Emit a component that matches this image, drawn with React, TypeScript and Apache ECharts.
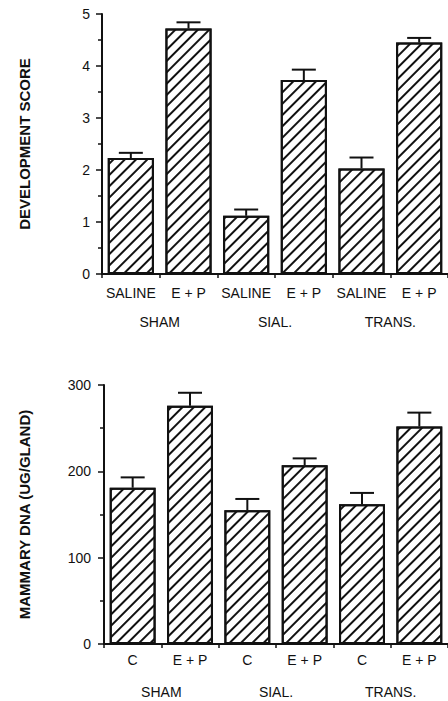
import React, { useEffect, useRef } from "react";
import * as echarts from "echarts";

const devCategories = ["SALINE", "E + P", "SALINE", "E + P", "SALINE", "E + P"];
const devGroups = ["SHAM", "SIAL.", "TRANS."];
const devMeans = [2.23, 4.72, 1.12, 3.73, 2.03, 4.45];
const devErr = [0.1, 0.12, 0.12, 0.2, 0.21, 0.09];

const dnaCategories = ["C", "E + P", "C", "E + P", "C", "E + P"];
const dnaGroups = ["SHAM", "SIAL.", "TRANS."];
const dnaMeans = [181, 276, 155, 207, 162, 252];
const dnaErr = [12, 15, 13, 8, 13, 16];

const FONT = "'Liberation Sans', Arial, Helvetica, sans-serif";
const INK = "#111";

export default function App() {
  const ref = useRef<HTMLDivElement>(null);

  useEffect(() => {
    if (!ref.current) return;
    const chart = echarts.init(ref.current, undefined, { renderer: "svg" });

    const decal = {
      symbol: "rect",
      symbolSize: 1,
      dashArrayX: [1, 0],
      dashArrayY: [1.4, 5.8],
      rotation: -Math.PI / 4,
      color: INK,
      backgroundColor: "#fff",
    };

    const errRender = (params: any, api: any) => {
      const x = api.value(0);
      const mean = api.value(1);
      const top = api.value(2);
      const p0 = api.coord([x, mean]);
      const p1 = api.coord([x, top]);
      const half = 12;
      return {
        type: "group",
        children: [
          {
            type: "line",
            shape: { x1: p0[0], y1: p0[1], x2: p1[0], y2: p1[1] },
            style: { stroke: INK, lineWidth: 2 },
          },
          {
            type: "line",
            shape: { x1: p1[0] - half, y1: p1[1], x2: p1[0] + half, y2: p1[1] },
            style: { stroke: INK, lineWidth: 2 },
          },
        ],
      };
    };

    const catAxis = (grid: number, data: string[], margin: number) => ({
      type: "category",
      gridIndex: grid,
      data,
      boundaryGap: true,
      axisLine: { show: true, lineStyle: { color: INK, width: 2 } },
      axisTick: { show: true, length: 4, lineStyle: { color: INK, width: 1.5 } },
      axisLabel: { color: INK, fontSize: 14, fontFamily: FONT, margin, interval: 0 },
    });

    const groupAxis = (grid: number, data: string[], margin: number) => ({
      type: "category",
      gridIndex: grid,
      data,
      position: "bottom",
      axisLine: { show: false },
      axisTick: { show: false },
      axisLabel: { color: INK, fontSize: 14, fontFamily: FONT, margin, interval: 0 },
    });

    const valAxis = (
      grid: number,
      max: number,
      interval: number,
      name: string,
      nameGap: number,
      margin: number
    ) => ({
      type: "value",
      gridIndex: grid,
      min: 0,
      max,
      interval,
      name,
      nameLocation: "middle",
      nameGap,
      nameTextStyle: { color: INK, fontSize: 15, fontWeight: "bold", fontFamily: FONT },
      splitLine: { show: false },
      axisLine: { show: true, lineStyle: { color: INK, width: 2 } },
      axisTick: { show: true, length: 6, lineStyle: { color: INK, width: 1.5 } },
      minorTick: { show: true, splitNumber: 2, length: 4, lineStyle: { color: INK, width: 1.5 } },
      axisLabel: { color: INK, fontSize: 14, fontFamily: FONT, margin },
    });

    const barSeries = (axisIdx: number, values: number[]) => ({
      type: "bar",
      xAxisIndex: axisIdx,
      yAxisIndex: axisIdx === 0 ? 0 : 1,
      data: values,
      barWidth: "80%",
      itemStyle: { color: "#fff", borderColor: INK, borderWidth: 2, decal },
      silent: true,
    });

    const errSeries = (axisIdx: number, means: number[], errs: number[]) => ({
      type: "custom",
      xAxisIndex: axisIdx,
      yAxisIndex: axisIdx === 0 ? 0 : 1,
      renderItem: errRender,
      data: means.map((m, i) => [i, m, m + errs[i]]),
      z: 1,
      silent: true,
    });

    chart.setOption({
      animation: false,
      backgroundColor: "#fff",
      grid: [
        { left: 102, top: 14, width: 346, height: 260 },
        { left: 104, top: 385, width: 346, height: 259 },
      ],
      xAxis: [
        catAxis(0, devCategories, 12),
        catAxis(1, dnaCategories, 9),
        groupAxis(0, devGroups, 41),
        groupAxis(1, dnaGroups, 41),
      ],
      yAxis: [
        valAxis(0, 5, 1, "DEVELOPMENT SCORE", 70, 12),
        valAxis(1, 300, 100, "MAMMARY DNA (UG/GLAND)", 72, 13),
      ],
      series: [
        errSeries(0, devMeans, devErr),
        barSeries(0, devMeans),
        errSeries(1, dnaMeans, dnaErr),
        barSeries(1, dnaMeans),
      ],
    });

    return () => chart.dispose();
  }, []);

  return (
    <div
      ref={ref}
      style={{ position: "fixed", left: 0, top: 0, width: 448, height: 701, background: "#fff" }}
    />
  );
}
